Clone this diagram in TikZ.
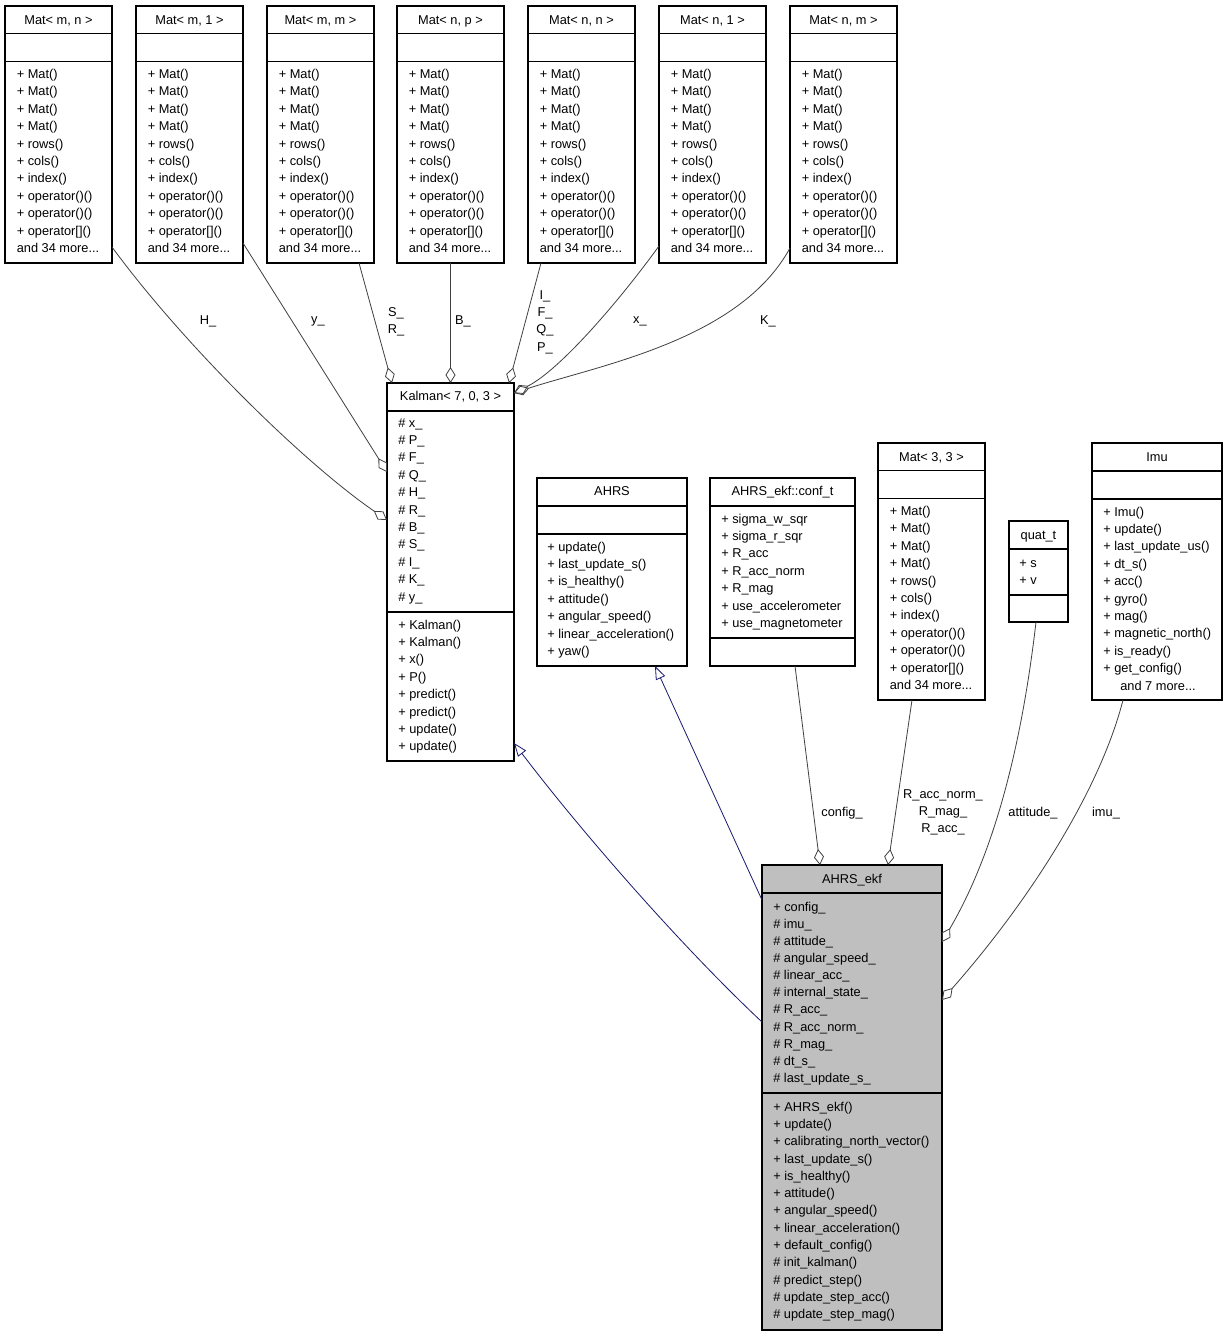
\documentclass[tikz,border=0pt]{standalone}
\usepackage{fontspec}
\setmainfont{Liberation Sans}
\usetikzlibrary{arrows.meta,calc}
\definecolor{edgegray}{HTML}{404040}
\definecolor{inhblue}{HTML}{191970}
\definecolor{ekfgray}{HTML}{BFBFBF}
\newcommand\dfont{\fontsize{9.6}{13}\selectfont}
\newcommand\umlbox[6][white]{%
  \node[box, fill=#1, minimum width={(#5-(#3))*0.75pt}, minimum height={(#6-(#4))*0.75pt}] (#2) at (#3,#4) {};}
\newcommand\sepat[3]{\draw[sepline] (#1,#3) -- (#2,#3);}
\newcommand\memrows[5]{\foreach \txt [count=\i] in {#5} {\node[mem] (#1-\i) at (#2,{#3+4+(\i-1)*#4}) {\txt};}}
\newcommand\matbox[4]{%
  \umlbox{#1}{#2}{#3}{#2+107}{#3+257}
  \sepat{#2}{#2+107}{#3+27.5}
  \sepat{#2}{#2+107}{#3+55.5}
  \node[ttl] (#1-t) at ({#2+53.5},{#3+18}) {#4};
  \memrows{#1-m}{#2+11.5}{#3+68.5}{17.4}{+ Mat(),+ Mat(),+ Mat(),+ Mat(),+ rows(),+ cols(),+ index(),+ operator()(),+ operator()(),+ operator[](),and 34 more.{}.{}.}}
\begin{document}
\begin{tikzpicture}[x=0.75pt,y=-0.75pt,
  box/.style={draw=black, line width=0.9pt, inner sep=0pt, outer sep=0pt, anchor=north west},
  sepline/.style={draw=black, line width=0.9pt},
  mem/.style={anchor=base west, inner sep=0pt, font=\dfont},
  ttl/.style={anchor=base, inner sep=0pt, font=\dfont},
  lbl/.style={inner sep=0pt, font=\dfont, align=center},
  agg/.style={draw=edgegray, line width=0.6pt, -{Diamond[open, length=12pt, width=7.5pt]}},
  inh/.style={draw=inhblue, line width=0.6pt, -{Triangle[open, length=10pt, width=7.5pt]}}]
\fill[white] (0,0) rectangle (1228,1336);
\useasboundingbox (0,0) rectangle (1228,1336);

% top row of Mat templates
\matbox{mmn}{5}{6}{Mat< m, n >}
\matbox{mm1}{136}{6}{Mat< m, 1 >}
\matbox{mmm}{267}{6}{Mat< m, m >}
\matbox{mnp}{397}{6}{Mat< n, p >}
\matbox{mnn}{528}{6}{Mat< n, n >}
\matbox{mn1}{659}{6}{Mat< n, 1 >}
\matbox{mnm}{790}{6}{Mat< n, m >}

% Kalman
\umlbox{kal}{387}{383}{514}{761}
\sepat{387}{514}{411}
\sepat{387}{514}{612}
\node[ttl] (kal-t) at (450.5,400) {Kalman< 7, 0, 3 >};
\memrows{kal-a}{398}{423}{17.4}{\# x\_,\# P\_,\# F\_,\# Q\_,\# H\_,\# R\_,\# B\_,\# S\_,\# I\_,\# K\_,\# y\_}
\memrows{kal-o}{398}{625}{17.4}{+ Kalman(),+ Kalman(),+ x(),+ P(),+ predict(),+ predict(),+ update(),+ update()}

% AHRS
\umlbox{ahrs}{537}{478}{687}{666}
\sepat{537}{687}{506}
\sepat{537}{687}{534}
\node[ttl] (ahrs-t) at (612,495) {AHRS};
\memrows{ahrs-o}{547}{547}{17.4}{+ update(),+ last\_update\_s(),+ is\_healthy(),+ attitude(),+ angular\_speed(),+ linear\_acceleration(),+ yaw()}

% conf_t
\umlbox{conf}{710}{478}{855}{666}
\sepat{710}{855}{506}
\sepat{710}{855}{638}
\node[ttl] (conf-t) at (782.5,495) {AHRS\_ekf::conf\_t};
\memrows{conf-a}{721}{519}{17.4}{+ sigma\_w\_sqr,+ sigma\_r\_sqr,+ R\_acc,+ R\_acc\_norm,+ R\_mag,+ use\_accelerometer,+ use\_magnetometer}

% Mat<3,3>
\matbox{m33}{878}{443}{Mat< 3, 3 >}

% quat_t
\umlbox{quat}{1009}{521}{1068}{622}
\sepat{1009}{1068}{549}
\sepat{1009}{1068}{595}
\node[ttl] (quat-t) at (1038.5,539) {quat\_t};
\memrows{quat-a}{1019}{563}{17.4}{+ s,+ v}

% Imu
\umlbox{imu}{1092}{443}{1222}{700}
\sepat{1092}{1222}{471}
\sepat{1092}{1222}{499}
\node[ttl] (imu-t) at (1157,461) {Imu};
\memrows{imu-o}{1103}{512}{17.4}{+ Imu(),+ update(),+ last\_update\_us(),+ dt\_s(),+ acc(),+ gyro(),+ mag(),+ magnetic\_north(),+ is\_ready(),+ get\_config()}
\node[mem] (imu-more) at (1120,690) {and 7 more...};

% AHRS_ekf
\umlbox[ekfgray]{ekf}{762}{865}{942}{1330}
\sepat{762}{942}{893}
\sepat{762}{942}{1093}
\node[ttl] (ekf-t) at (852,883) {AHRS\_ekf};
\memrows{ekf-a}{773}{907}{17.15}{+ config\_,\# imu\_,\# attitude\_,\# angular\_speed\_,\# linear\_acc\_,\# internal\_state\_,\# R\_acc\_,\# R\_acc\_norm\_,\# R\_mag\_,\# dt\_s\_,\# last\_update\_s\_}
\memrows{ekf-o}{773}{1107}{17.33}{+ AHRS\_ekf(),+ update(),+ calibrating\_north\_vector(),+ last\_update\_s(),+ is\_healthy(),+ attitude(),+ angular\_speed(),+ linear\_acceleration(),+ default\_config(),\# init\_kalman(),\# predict\_step(),\# update\_step\_acc(),\# update\_step\_mag()}

% aggregation edges into Kalman
\draw[agg] ($(mmn.north west)+(107,241)$) .. controls (180,340) and (300,460) .. ($(kal.north west)+(0,137)$);
\draw[agg] ($(mm1.north west)+(107,237)$) -- ($(kal.north west)+(0,89)$);
\draw[agg] ($(mmm.north west)+(92,257)$) -- ($(kal.north west)+(5,0)$);
\draw[agg] ($(mnp.north west)+(53.5,257)$) -- ($(kal.north west)+(63.5,0)$);
\draw[agg] ($(mnn.north west)+(13,257)$) -- ($(kal.north west)+(122,0)$);
\draw[agg] ($(mn1.north west)+(0,240)$) .. controls (620,300) and (560,370) .. ($(kal.north west)+(127,10)$);
\draw[agg] ($(mnm.north west)+(0,242)$) .. controls (740,340) and (600,365) .. ($(kal.north west)+(127,10)$);

% labels on Kalman edges
\node[lbl] (l-h) at (208,321) {H\_};
\node[lbl] (l-y) at (318,321) {y\_};
\node[lbl] (l-sr) at (396,321.5) {S\_\\R\_};
\node[lbl] (l-b) at (463,321) {B\_};
\node[lbl] (l-ifqp) at (545,322) {I\_\\F\_\\Q\_\\P\_};
\node[lbl] (l-x) at (640,321) {x\_};
\node[lbl] (l-k) at (768,321) {K\_};

% inheritance
\draw[inh] ($(ekf.north west)+(0,157)$) .. controls (680,945) and (580,830) .. ($(kal.north west)+(127,360)$);
\draw[inh] ($(ekf.north west)+(0,35)$) -- ($(ahrs.north west)+(118,188)$);

% aggregation edges into AHRS_ekf
\draw[agg] ($(conf.north west)+(85,188)$) -- ($(ekf.north west)+(58,0)$);
\draw[agg] ($(m33.north west)+(34,257)$) -- ($(ekf.north west)+(126,0)$);
\draw[agg] ($(quat.north west)+(27,101)$) .. controls (1020,760) and (990,860) .. ($(ekf.north west)+(180,77)$);
\draw[agg] ($(imu.north west)+(31,257)$) .. controls (1100,790) and (1030,900) .. ($(ekf.north west)+(180,135)$);

\node[lbl] (l-config) at (842,813) {config\_};
\node[lbl] (l-r) at (943,812.5) {R\_acc\_norm\_\\R\_mag\_\\R\_acc\_};
\node[lbl] (l-att) at (1033,813) {attitude\_};
\node[lbl] (l-imu) at (1106,813) {imu\_};
\end{tikzpicture}
\end{document}
